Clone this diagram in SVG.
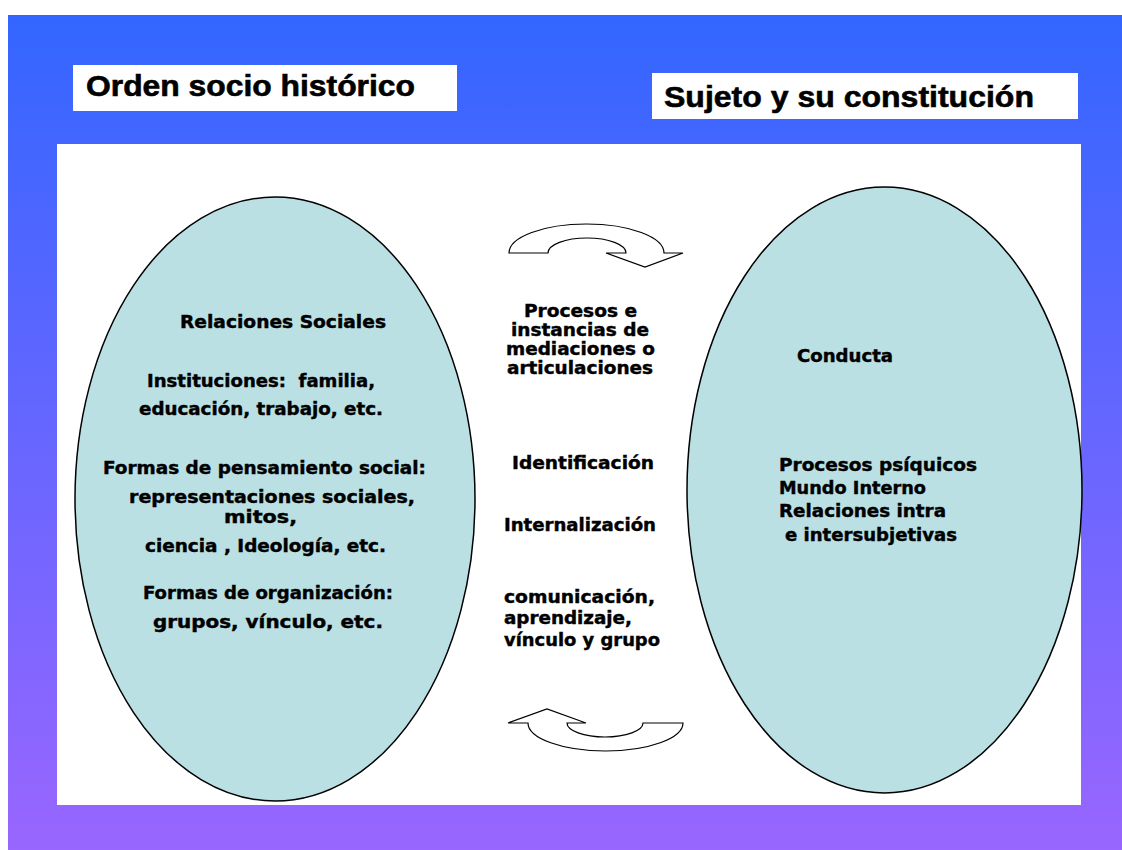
<svg xmlns="http://www.w3.org/2000/svg" width="1122" height="850" viewBox="0 0 1122 850">
  <defs>
    <linearGradient id="bg" x1="0" y1="0" x2="0" y2="1">
      <stop offset="0" stop-color="#3366FF"/>
      <stop offset="1" stop-color="#9966FF"/>
    </linearGradient>
    <style>
      .title { font-family: "Liberation Sans", Arial, sans-serif; font-weight: bold; font-size: 29px; fill: #000; stroke: #000; stroke-width: 0.6; }
      .t { font-family: "DejaVu Sans", Verdana, sans-serif; font-weight: bold; font-size: 18px; fill: #000; stroke: #000; stroke-width: 0.45; }
      .oval { fill: #BAE0E4; stroke: #000; stroke-width: 1.5; }
      .arrow { fill: #FFFFFF; stroke: #000; stroke-width: 1.2; stroke-linejoin: miter; }
      .box { fill: #FFFFFF; }
    </style>
  </defs>

  <rect x="0" y="0" width="1122" height="850" fill="#FFFFFF"/>
  <rect x="8" y="15" width="1114" height="835" fill="url(#bg)"/>
  <rect x="57" y="144" width="1024" height="661" fill="#FFFFFF"/>

  <g id="title-left">
    <rect class="box" x="73" y="65" width="384" height="46"/>
    <text class="title" x="86" y="96" textLength="329" lengthAdjust="spacingAndGlyphs">Orden socio histórico</text>
  </g>

  <g id="title-right">
    <rect class="box" x="652" y="73" width="426" height="46"/>
    <text class="title" x="664" y="107" textLength="370" lengthAdjust="spacingAndGlyphs">Sujeto y su constitución</text>
  </g>

  <g id="orden-socio-historico">
    <ellipse class="oval" cx="275" cy="499" rx="200" ry="302"/>
    <text class="t" x="180" y="328" textLength="206" lengthAdjust="spacingAndGlyphs">Relaciones Sociales</text>
    <text class="t" x="147" y="387" textLength="228" lengthAdjust="spacingAndGlyphs" style="white-space:pre">Instituciones:  familia,</text>
    <text class="t" x="139" y="415" textLength="244" lengthAdjust="spacingAndGlyphs">educación, trabajo, etc.</text>
    <text class="t" x="103" y="474" textLength="323" lengthAdjust="spacingAndGlyphs">Formas de pensamiento social:</text>
    <text class="t" x="129" y="503" textLength="286" lengthAdjust="spacingAndGlyphs">representaciones sociales,</text>
    <text class="t" x="224" y="523" textLength="73" lengthAdjust="spacingAndGlyphs">mitos,</text>
    <text class="t" x="145" y="552" textLength="241" lengthAdjust="spacingAndGlyphs">ciencia , Ideología, etc.</text>
    <text class="t" x="143" y="599" textLength="250" lengthAdjust="spacingAndGlyphs">Formas de organización:</text>
    <text class="t" x="153" y="628" textLength="230" lengthAdjust="spacingAndGlyphs">grupos, vínculo, etc.</text>
  </g>

  <g id="sujeto">
    <ellipse class="oval" cx="884.5" cy="490" rx="197.5" ry="303"/>
    <text class="t" x="797" y="362" textLength="96" lengthAdjust="spacingAndGlyphs">Conducta</text>
    <text class="t" x="779" y="471" textLength="198" lengthAdjust="spacingAndGlyphs">Procesos psíquicos</text>
    <text class="t" x="779" y="494" textLength="147" lengthAdjust="spacingAndGlyphs">Mundo Interno</text>
    <text class="t" x="779" y="517" textLength="167" lengthAdjust="spacingAndGlyphs">Relaciones intra</text>
    <text class="t" x="785" y="541" textLength="172" lengthAdjust="spacingAndGlyphs">e intersubjetivas</text>
  </g>

  <g id="mediaciones">
    <text class="t" x="524" y="317" textLength="113" lengthAdjust="spacingAndGlyphs">Procesos e</text>
    <text class="t" x="511" y="336" textLength="138" lengthAdjust="spacingAndGlyphs">instancias de</text>
    <text class="t" x="506" y="355" textLength="149" lengthAdjust="spacingAndGlyphs">mediaciones o</text>
    <text class="t" x="507" y="374" textLength="146" lengthAdjust="spacingAndGlyphs">articulaciones</text>
    <text class="t" x="512" y="469" textLength="142" lengthAdjust="spacingAndGlyphs">Identificación</text>
    <text class="t" x="504" y="531" textLength="152" lengthAdjust="spacingAndGlyphs">Internalización</text>
    <text class="t" x="504" y="603" textLength="151" lengthAdjust="spacingAndGlyphs">comunicación,</text>
    <text class="t" x="504" y="624" textLength="128" lengthAdjust="spacingAndGlyphs">aprendizaje,</text>
    <text class="t" x="504" y="646" textLength="156" lengthAdjust="spacingAndGlyphs">vínculo y grupo</text>
  </g>

  <g id="connectors">
    <path class="arrow" d="M509,253 A77.5,29 0 0 1 664,253 L683,253 L645,267 L606,253 L626,253 A39,15 0 0 0 548,253 Z"/>
    <path class="arrow" d="M508,723 L547,709 L586,723 L567,723 A38,14 0 0 0 643,723 L683,723 A77.5,28 0 0 1 528,723 Z"/>
  </g>
</svg>
